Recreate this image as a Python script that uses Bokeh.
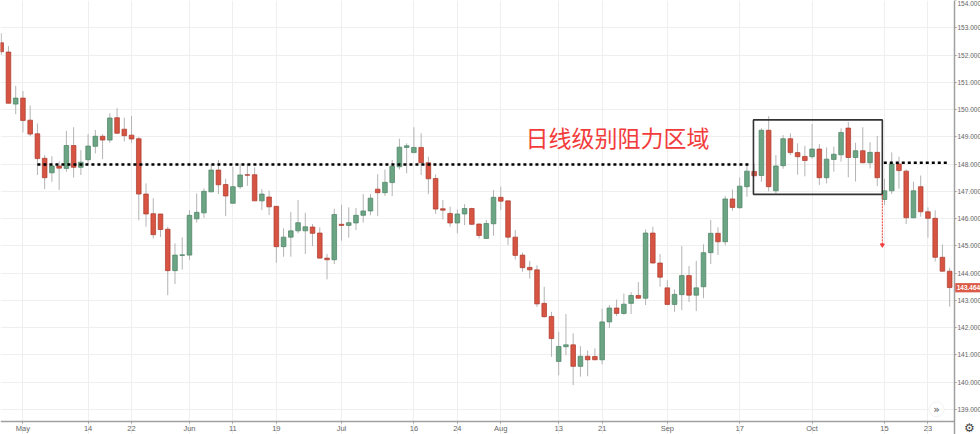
from bokeh.plotting import figure
from bokeh.models import FixedTicker, NumeralTickFormatter, Range1d
from bokeh.core.properties import value
from bokeh.embed import file_html
from bokeh.resources import INLINE

opens = [152.45,152.11,150.20,150.42,149.61,149.11,148.21,147.68,147.93,147.84,
148.68,147.88,148.16,148.65,149.02,148.88,149.70,149.28,149.06,148.93,
146.90,146.18,146.17,145.61,144.09,144.65,144.66,145.99,146.21,146.98,
147.78,147.25,146.56,147.17,147.61,147.61,146.65,146.79,146.45,144.97,
145.32,145.55,145.55,145.69,145.47,144.55,144.49,145.79,145.75,145.84,
146.12,146.28,147.08,146.95,147.32,147.90,148.61,148.42,148.61,148.05,
147.47,146.36,146.19,145.84,146.17,146.37,145.80,145.27,145.81,146.78,
146.65,145.32,144.66,144.21,144.12,142.89,142.41,140.76,141.30,141.37,
140.58,140.95,140.94,140.82,142.21,142.72,142.52,142.89,143.18,143.08,
145.47,144.37,143.46,142.85,143.21,143.91,143.19,143.50,144.75,145.46,
145.15,146.72,146.40,147.17,147.73,147.58,149.24,147.02,147.94,148.93,
148.42,148.28,148.27,148.55,147.50,148.17,148.34,149.32,148.24,148.49,
148.05,148.43,146.70,147.02,148.00,147.74,146.03,147.17,146.25,146.01,144.58,144.07]
highs = [152.80,152.33,150.87,150.68,150.15,149.49,148.33,148.29,148.10,149.22,
149.35,148.51,149.10,149.25,149.10,149.86,150.05,149.70,149.76,149.00,
147.29,146.75,146.17,145.70,145.09,145.31,146.31,146.92,147.11,148.00,
148.15,147.46,147.90,148.02,148.02,147.88,147.08,147.03,146.45,145.64,
146.24,146.68,146.21,145.80,145.68,144.70,146.36,146.51,146.41,146.39,
146.90,146.90,147.63,147.80,148.15,148.93,148.76,149.35,149.13,148.27,
147.62,146.68,146.44,146.34,146.53,146.40,145.82,145.95,147.05,147.17,
146.65,145.58,144.75,144.45,144.29,143.50,142.58,141.85,142.50,141.79,
141.32,141.16,141.24,142.70,142.83,143.03,143.25,143.30,143.67,145.60,
145.70,144.70,143.74,143.40,144.99,144.26,144.45,145.06,145.95,145.68,
146.83,147.07,147.51,147.96,148.02,149.31,149.76,148.33,149.06,149.13,
148.76,148.67,149.47,148.73,148.61,148.64,149.31,149.54,148.78,149.35,
148.80,149.03,147.46,148.43,148.27,147.80,147.35,147.58,146.41,146.31,145.05,144.20]
lows = [152.00,150.23,149.83,149.16,149.03,147.60,147.08,147.35,147.05,147.72,
147.50,147.60,148.00,148.39,148.18,148.78,149.10,148.83,148.78,145.94,
145.70,145.27,145.33,143.19,143.60,144.13,144.48,145.85,146.02,146.98,
146.90,146.09,146.56,147.09,147.20,146.65,146.31,146.13,144.38,144.60,
144.60,145.46,144.70,144.99,144.54,143.77,144.33,145.19,145.30,145.58,
145.85,146.12,146.09,146.83,146.83,147.80,147.66,148.42,147.60,146.90,
146.17,145.97,145.70,145.46,145.76,145.76,145.27,145.27,145.37,146.31,
145.03,144.50,144.05,143.80,142.76,142.37,140.93,140.25,140.99,139.89,
140.20,140.22,140.81,140.66,141.99,142.42,142.47,142.50,143.06,142.83,
144.35,143.50,142.84,142.58,142.64,142.94,142.61,143.08,144.33,144.67,
145.02,146.29,146.36,146.80,147.57,147.35,147.00,146.92,147.83,148.33,
147.61,147.55,148.20,147.23,147.29,147.72,148.09,147.51,147.36,148.03,
147.84,147.19,146.50,146.90,147.10,145.80,146.01,146.07,145.30,144.43,144.05,142.77]
closes = [152.12,150.23,150.42,149.60,149.10,148.20,147.50,147.93,147.85,148.68,
147.88,148.07,148.66,149.02,148.88,149.69,149.13,149.04,148.92,146.90,
146.17,145.41,145.60,144.09,144.66,144.67,146.12,146.23,147.00,147.78,
147.24,146.83,147.17,147.60,147.59,146.65,146.90,146.43,144.97,145.32,
145.55,145.85,145.70,145.46,144.55,144.49,146.15,145.75,145.85,146.12,
146.28,146.75,146.95,147.33,147.92,148.62,148.67,148.61,148.05,147.46,
146.35,146.31,145.84,146.17,146.37,145.79,145.38,145.82,146.78,146.64,
145.32,144.65,144.20,144.12,142.87,142.40,141.60,141.31,141.37,140.58,
140.95,140.82,140.82,142.21,142.72,142.52,142.86,143.18,143.08,145.47,
144.37,143.85,142.85,143.22,143.91,143.19,143.46,144.75,145.46,145.15,
146.72,146.41,147.19,147.74,147.57,149.24,147.17,147.93,148.93,148.42,
148.27,148.13,148.55,147.50,148.18,148.36,149.16,148.24,148.49,148.05,
148.43,147.50,147.02,148.00,147.76,146.03,147.02,146.25,146.01,144.58,144.07,143.47]

tick_index = [3, 12, 18, 26, 32, 38, 47, 57, 63, 69, 77, 83, 92, 102, 112, 122, 128]
tick_labels = ["May", "14", "22", "Jun", "11", "19", "Jul", "16", "24", "Aug", "13", "21", "Sep", "17", "Oct", "15", "23"]
price_ticks = list(range(139, 155))
last_price = 143.464
resistance_left = 147.98
resistance_right = 148.05
zone_top = 149.62
zone_bottom = 146.89
arrow_target = 145.0
title_text = "日线级别阻力区域"

AXIS_X = 131.67
AXIS_Y = 138.56
p = figure(width=980, height=434, frame_width=980, frame_height=434,
           output_backend="svg", toolbar_location=None,
           x_range=Range1d(-0.1, 135.26), y_range=Range1d(138.08, 154.0),
           x_axis_location="below", y_axis_location="right",
           min_border_left=0, min_border_top=0, min_border_right=0, min_border_bottom=0,
           outline_line_color=None, background_fill_color="white")
p.styles = {"position": "absolute", "left": "0px", "top": "0px"}

FONT = "Liberation Sans"
ax = p.xaxis[0]
ax.fixed_location = AXIS_Y
ax.ticker = FixedTicker(ticks=tick_index)
ax.major_label_overrides = {i: t for i, t in zip(tick_index, tick_labels)}
ax.axis_line_color = "#a0a0a0"; ax.axis_line_width = 1.5
ax.major_tick_line_color = "#a0a0a0"; ax.major_tick_out = 2; ax.major_tick_in = 0
ax.minor_tick_line_color = None
ax.major_label_text_font_size = "7.5px"; ax.major_label_text_color = "#666666"
ax.major_label_text_font = FONT; ax.major_label_standoff = 1
ax.bounds = (-0.1, AXIS_X)

ay = p.yaxis[0]
ay.fixed_location = AXIS_X
ay.ticker = FixedTicker(ticks=price_ticks)
ay.formatter = NumeralTickFormatter(format="0.000")
ay.axis_line_color = "#a0a0a0"; ay.axis_line_width = 1.5
ay.major_tick_line_color = "#a0a0a0"; ay.major_tick_out = 2; ay.major_tick_in = 0
ay.minor_tick_line_color = None
ay.major_label_text_font_size = "6.5px"; ay.major_label_text_color = "#666666"
ay.major_label_text_font = FONT; ay.major_label_standoff = 1

p.xgrid.ticker = FixedTicker(ticks=tick_index)
p.ygrid.ticker = FixedTicker(ticks=price_ticks)
p.xgrid.grid_line_color = "#efefef"; p.ygrid.grid_line_color = "#efefef"
p.xgrid.bounds = (AXIS_Y, 154.0)
p.ygrid.bounds = (-0.1, AXIS_X)

idx = list(range(len(opens)))
up = [i for i in idx if closes[i] >= opens[i]]
dn = [i for i in idx if closes[i] < opens[i]]

p.segment(idx, lows, idx, highs, line_color="#b4b4b4", line_width=1)
p.vbar(x=up, width=0.64, bottom=[opens[i] for i in up], top=[closes[i] for i in up],
       fill_color="#6ba583", line_color="#4c8164", line_width=0.7)
p.vbar(x=dn, width=0.64, bottom=[closes[i] for i in dn], top=[opens[i] for i in dn],
       fill_color="#d75442", line_color="#a93a2c", line_width=0.7)

p.line([5, 103.5], [resistance_left] * 2, line_color="black", line_width=2.5, line_dash="3 3")
p.line([121.9, 130.7], [resistance_right] * 2, line_color="black", line_width=2.5, line_dash="3 3")

p.quad(left=[103.9], right=[121.7], bottom=[zone_bottom], top=[zone_top],
       fill_color=None, line_color="#333333", line_width=1.6)

p.line([121.7, 121.7], [zone_bottom, arrow_target], line_color="#f03c3c", line_width=1, line_dash="2 1")
p.scatter([121.7], [arrow_target + 0.03], marker="inverted_triangle", size=4,
          fill_color="#f03c3c", line_color="#f03c3c")

p.text([72.4], [148.98], text=[title_text], text_color="#f23c3c",
       text_font=value("Noto Sans CJK SC"), text_font_size="23px",
       text_align="left", text_baseline="middle")

p.quad(left=[AXIS_X + 0.1], right=[135.26], bottom=[last_price - 0.17], top=[last_price + 0.17],
       fill_color="#dc5a48", line_color=None, level="overlay")
p.text([AXIS_X + 0.3], [last_price], text=["143.464"], text_color="white",
       text_font=value(FONT), text_font_size="6.5px", text_font_style="bold",
       text_align="left", text_baseline="middle", level="overlay")

p.scatter([129.2], [139.0], marker="circle", size=15, fill_color="white", line_color="#f2f2f2")
p.text([129.2], [139.0], text=["»"], text_color="#555555", text_font=value("DejaVu Sans"),
       text_font_size="11px", text_align="center", text_baseline="middle")

p.text([133.74], [138.31], text=["⚙"], text_color="#444444", text_font=value("DejaVu Sans"),
       text_font_size="12px", text_align="center", text_baseline="middle")

open("out.html", "w").write(file_html(p, INLINE))
